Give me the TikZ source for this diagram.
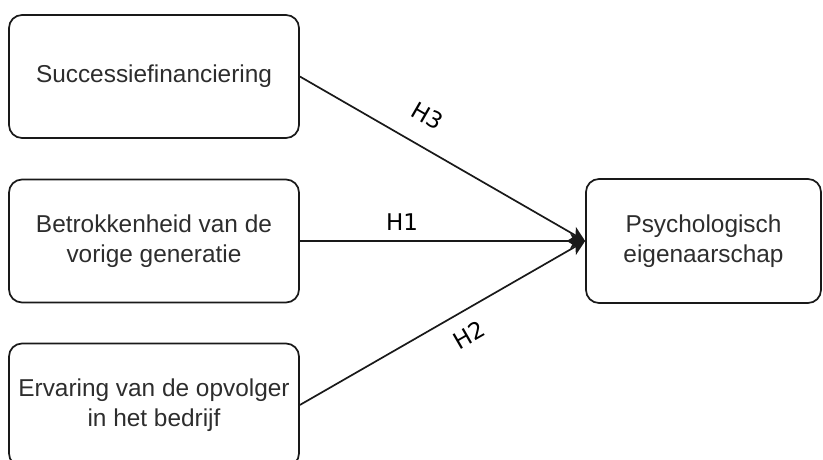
\documentclass[tikz,border=0pt]{standalone}
\usepackage{fontspec}
\setmainfont{Liberation Sans}
\newfontfamily\labelfont{DejaVu Sans}
\usetikzlibrary{arrows.meta}
\definecolor{txt}{RGB}{45,45,45}
\definecolor{ln}{RGB}{25,25,25}
\begin{document}
\begin{tikzpicture}[x=1pt,y=-1pt,
  box/.style={draw=ln, line width=1.7pt, rounded corners=13pt, minimum width=290pt,
    minimum height=123pt, align=center, text=txt, inner sep=0pt,
    font=\fontsize{24.4}{29.5}\selectfont},
  conn/.style={draw=ln, line width=1.7pt, -{Stealth[length=15pt,width=15pt,inset=4pt]}},
  hlab/.style={font=\labelfont\fontsize{23}{27}\selectfont, text=black, inner sep=0pt}]
\useasboundingbox (0,0) rectangle (823,460);
\clip (0,0) rectangle (823,460);
\node[box] (sf) at (154,76.5) {Successiefinanciering};
\node[box] (bv) at (154,241) {Betrokkenheid van de\\vorige generatie};
\node[box] (ev) at (154,405) {Ervaring van de opvolger\\in het bedrijf};
\node[box, minimum width=235pt, minimum height=124pt] (pe) at (703.5,241) {Psychologisch\\eigenaarschap};
\draw[conn] (sf.east) -- (pe.west);
\draw[conn] (bv.east) -- (pe.west);
\draw[conn] (ev.east) -- (pe.west);
\node[hlab, rotate=-30] (h3) at (428,116) {H3};
\node[hlab] (h1) at (402,222) {H1};
\node[hlab, rotate=30] (h2) at (469,335) {H2};
\end{tikzpicture}
\end{document}
